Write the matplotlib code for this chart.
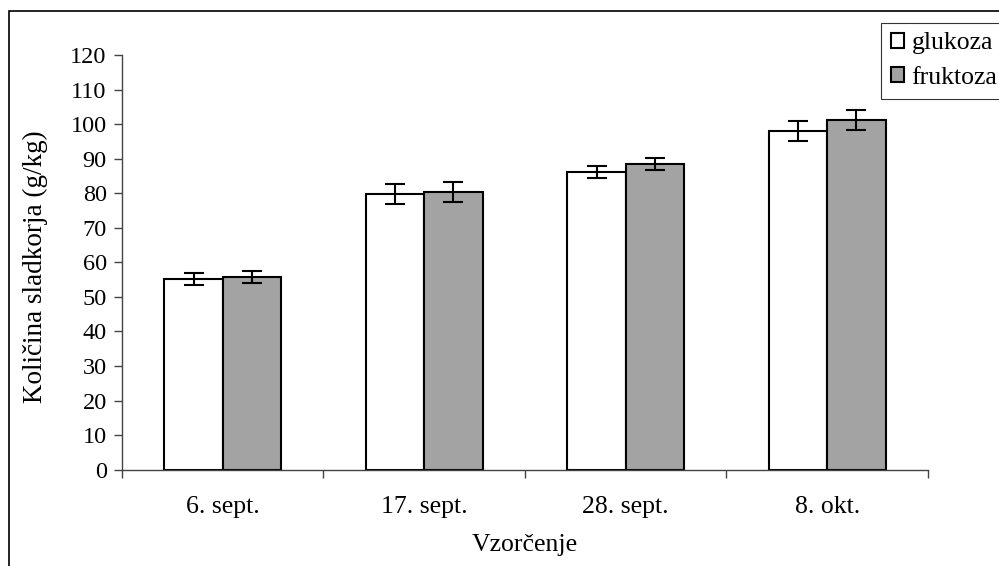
import matplotlib.pyplot as plt
import numpy as np
from matplotlib.patches import Rectangle, Patch

plt.rcParams["font.family"] = ["Liberation Serif", "DejaVu Serif"]

categories = ["6. sept.", "17. sept.", "28. sept.", "8. okt."]
glukoza = [55.1, 79.9, 86.2, 97.9]
glukoza_err = [1.7, 2.9, 1.7, 2.9]
fruktoza = [55.7, 80.4, 88.5, 101.2]
fruktoza_err = [1.8, 2.9, 1.7, 2.9]
y_ticks = list(range(0, 121, 10))

fig = plt.figure(figsize=(9.99, 5.66), dpi=100)
ax = fig.add_axes([0.1221, 0.1701, 0.8068, 0.7327])

x = np.arange(len(categories))
w = 0.29
err_kw = dict(ecolor="black", elinewidth=1.5, capsize=7, capthick=1.5)
ax.bar(x - w / 2, glukoza, w, yerr=glukoza_err, color="white",
       edgecolor="black", linewidth=1.5, error_kw=err_kw, label="glukoza")
ax.bar(x + w / 2, fruktoza, w, yerr=fruktoza_err, color="#a3a3a3",
       edgecolor="black", linewidth=1.5, error_kw=err_kw, label="fruktoza")

ax.set_xlim(-0.5, len(categories) - 0.5)
ax.set_ylim(0, 120)
ax.set_yticks(y_ticks)
ax.set_xticks(x)
ax.set_xticklabels(categories)
ax.set_xticks(np.arange(-0.5, len(categories)), minor=True)
ax.tick_params(axis="x", which="major", length=0, pad=19, labelsize=18.5)
ax.tick_params(axis="x", which="minor", length=6, width=1, color="#444444")
ax.tick_params(axis="y", length=6, width=1, color="#444444", pad=5, labelsize=17.5)

for side in ["top", "right"]:
    ax.spines[side].set_visible(False)
for side in ["left", "bottom"]:
    ax.spines[side].set_color("#444444")
    ax.spines[side].set_linewidth(1)

ax.set_ylabel("Količina sladkorja (g/kg)", fontsize=19.5)
ax.yaxis.set_label_coords(-0.092, 0.49)
ax.set_xlabel("Vzorčenje", fontsize=18.5)
ax.xaxis.set_label_coords(0.5, -0.155)

# outer frame of the embedded chart (cut off at right and bottom)
fig.patches.append(Rectangle((0.009, -0.05), 1.1, 0.9806 + 0.05, fill=False,
                             edgecolor="black", linewidth=1.2,
                             transform=fig.transFigure, figure=fig))

handles = [Patch(facecolor="white", edgecolor="black", linewidth=1.5),
           Patch(facecolor="#a3a3a3", edgecolor="black", linewidth=1.5)]
leg = fig.legend(handles, ["glukoza", "fruktoza"], loc="upper left",
                 bbox_to_anchor=(0.882, 0.96), fontsize=18.5, frameon=True,
                 fancybox=False, edgecolor="black", handlelength=0.5,
                 handleheight=0.5, handletextpad=0.3, borderpad=0.38,
                 labelspacing=0.48, borderaxespad=0)
leg.get_frame().set_linewidth(0.8)

fig.savefig("out.png", dpi=100)
